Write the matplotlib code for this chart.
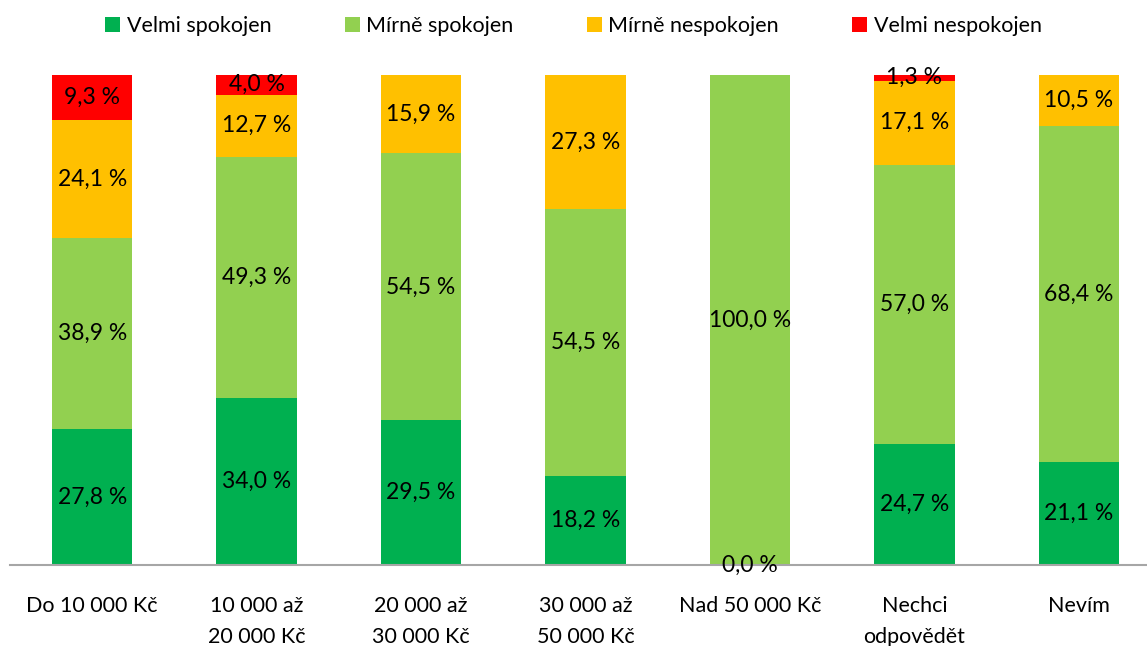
import numpy as np
import matplotlib
matplotlib.use("Agg")
from matplotlib import pyplot as plt

categories = ["Do 10 000 Kč", "10 000 až\n20 000 Kč", "20 000 až\n30 000 Kč",
              "30 000 až\n50 000 Kč", "Nad 50 000 Kč", "Nechci\nodpovědět", "Nevím"]
series_names = ["Velmi spokojen", "Mírně spokojen", "Mírně nespokojen", "Velmi nespokojen"]
velmi_spokojen = [27.8, 34.0, 29.5, 18.2, 0.0, 24.7, 21.1]
mirne_spokojen = [38.9, 49.3, 54.5, 54.5, 100.0, 57.0, 68.4]
mirne_nespokojen = [24.1, 12.7, 15.9, 27.3, 0.0, 17.1, 10.5]
velmi_nespokojen = [9.3, 4.0, 0.0, 0.0, 0.0, 1.3, 0.0]
colors = ["#00B050", "#92D050", "#FFC000", "#FF0000"]


def fmt(v):
    return ("%.1f %%" % v).replace(".", ",")


def main():
    plt.rcParams['font.family'] = ['Lato', 'DejaVu Sans']
    fig = plt.figure(figsize=(11.47, 6.46), dpi=100)
    ax = fig.add_axes([10 / 1147, (646 - 565) / 646, 1151 / 1147, 490 / 646])

    x = np.arange(len(categories))
    data = [velmi_spokojen, mirne_spokojen, mirne_nespokojen, velmi_nespokojen]
    bottom = np.zeros(len(categories))
    for i, (name, vals) in enumerate(zip(series_names, data)):
        vals = np.array(vals)
        bars = ax.bar(x, vals, 0.49, bottom=bottom, color=colors[i], label=name)
        for j, b in enumerate(bars):
            # zero labels only shown for the first series
            if vals[j] == 0 and i > 0:
                continue
            ax.text(x[j], bottom[j] + vals[j] / 2, fmt(vals[j]),
                    ha="center", va="center", fontsize=16.5, color="black")
        bottom += vals

    ax.set_xlim(-0.5, len(categories) - 0.5)
    ax.set_ylim(0, 100)
    ax.set_xticks(x)
    ax.set_xticklabels(categories, fontsize=15.5, linespacing=1.7)
    ax.tick_params(axis="x", length=0, pad=22)
    ax.set_yticks([])
    for s in ["top", "right", "left"]:
        ax.spines[s].set_visible(False)
    ax.spines["bottom"].set_color("#A6A6A6")
    ax.spines["bottom"].set_linewidth(1.5)

    fig.legend(loc="upper center", bbox_to_anchor=(0.5, 1.005), ncol=4, frameon=False,
               fontsize=15.5, handlelength=0.7, handleheight=0.7, handletextpad=0.3,
               columnspacing=3.4)

    fig.savefig("out.png", dpi=100)


if __name__ == '__main__':
    main()
